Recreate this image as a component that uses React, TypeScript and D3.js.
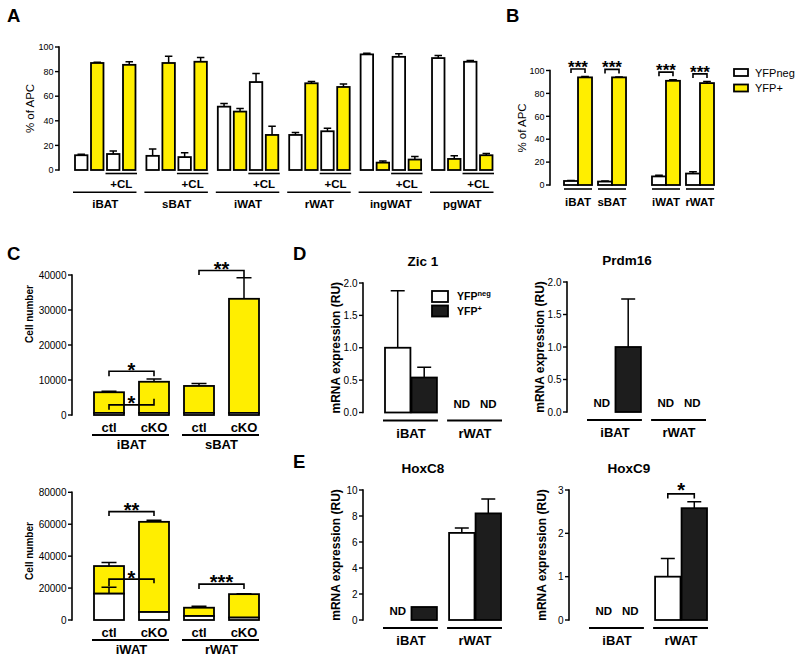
import React from 'react';
import * as d3 from 'd3';

const FONT = '"Liberation Sans", Arial, Helvetica, sans-serif';
const YELLOW = '#ffee00';
const DARK = '#1d1d1d';
const SW = 1.8;

type Num = number | null;

// ---- A: % of APC by depot, with / without CL
const aTissues = ['iBAT', 'sBAT', 'iWAT', 'rWAT', 'ingWAT', 'pgWAT'];
const aConds = ['YFPneg', 'YFP+', 'YFPneg +CL', 'YFP+ +CL'];
const aMeans = [
  [12, 87, 13, 85.5],
  [11.5, 87, 10.5, 88],
  [51.5, 47.5, 71.5, 28.5],
  [28.5, 70.5, 31.5, 67.5],
  [94, 6, 92, 8.5],
  [91, 9, 88, 12],
];
const aErrs = [
  [0.8, 0.6, 2.5, 2.5],
  [5.5, 5.5, 3.5, 3.5],
  [2.5, 2.5, 7, 7],
  [2, 1.5, 2.5, 2.5],
  [1, 1.3, 2.5, 2.5],
  [2, 2.5, 1, 1.5],
];
const aTicks = [0, 20, 40, 60, 80, 100];

// ---- B
const bDepots = ['BAT', 'WAT'];
const bTissues = [['iBAT', 'sBAT'], ['iWAT', 'rWAT']];
const bNeg = [[3.5, 3], [7.5, 10]];
const bNegErr = [[0.5, 0.4], [1, 1.5]];
const bPos = [[94, 94], [91, 89]];
const bPosErr = [[0.8, 0.4], [1, 1.5]];
const bSig = [['***', '***'], ['***', '***']];
const legendLabels = ['YFPneg', 'YFP+'];

// ---- C: cell numbers, stacked YFPneg (bottom) + YFP+ (top)
const cConds = ['ctl', 'cKO'];
const cTopTissues = ['iBAT', 'sBAT'];
const cTopNeg = [[600, 600], [600, 600]];
const cTopNegErr = [[0, 0], [0, 0]];
const cTopPos = [[5900, 8900], [7700, 32600]];
const cTopErr = [[300, 800], [700, 6000]];
const cTopTicks = [0, 10000, 20000, 30000, 40000];
const cTopSigs = [
  { tissue: 'iBAT', level: 12500, label: '*' },
  { tissue: 'iBAT', level: 2900, label: '*' },
  { tissue: 'sBAT', level: 41300, label: '**' },
];
const cBotTissues = ['iWAT', 'rWAT'];
const cBotNeg = [[16500, 5000], [2500, 1500]];
const cBotNegErr = [[4000, 0], [0, 0]];
const cBotPos = [[17300, 56500], [5200, 14700]];
const cBotErr = [[2300, 1000], [900, 300]];
const cBotTicks = [0, 20000, 40000, 60000, 80000];
const cBotSigs = [
  { tissue: 'iWAT', level: 67900, label: '**' },
  { tissue: 'iWAT', level: 25600, label: '*' },
  { tissue: 'rWAT', level: 22500, label: '***' },
];

// ---- D / E: mRNA expression, null = ND
const dTissues = ['iBAT', 'rWAT'];
const dConds = ['neg', 'pos'];
const zic1Neg: Num[] = [1.0, null];
const zic1NegErr = [0.88, 0];
const zic1Pos: Num[] = [0.54, null];
const zic1PosErr = [0.16, 0];
const prdm16Neg: Num[] = [null, null];
const prdm16NegErr = [0, 0];
const prdm16Pos: Num[] = [1.0, null];
const prdm16PosErr = [0.74, 0];
const hoxc8Neg: Num[] = [null, 6.7];
const hoxc8NegErr = [0, 0.38];
const hoxc8Pos: Num[] = [1.0, 8.2];
const hoxc8PosErr = [0, 1.1];
const hoxc9Neg: Num[] = [null, 1.0];
const hoxc9NegErr = [0, 0.42];
const hoxc9Pos: Num[] = [null, 2.58];
const hoxc9PosErr = [0, 0.15];
const dTicks = [0, 0.5, 1.0, 1.5, 2.0];
const c8Ticks = [0, 2, 4, 6, 8, 10];
const c9Ticks = [0, 1, 2, 3];

function YAxis({ x, y, ticks, fmt, fs }: any) {
  const [r0, r1] = y.range();
  return (
    <g>
      <line x1={x} x2={x} y1={r0 + 0.7} y2={r1 - 0.7} stroke="#000" strokeWidth={1.6} />
      {ticks.map((t: number) => (
        <g key={t}>
          <line x1={x - 4} x2={x} y1={y(t)} y2={y(t)} stroke="#000" strokeWidth={1.4} />
          <text x={x - 5.5} y={y(t)} dy="0.36em" textAnchor="end" fontSize={fs}>{fmt(t)}</text>
        </g>
      ))}
    </g>
  );
}

function VLabel({ x, y, text, fs, bold }: any) {
  return (
    <text transform={`translate(${x},${y}) rotate(-90)`} textAnchor="middle" dominantBaseline="central"
      fontSize={fs} fontWeight={bold ? 'bold' : 'normal'}>{text}</text>
  );
}

function Err({ cx, y0, y1, w }: any) {
  return <path d={`M${cx},${y0}V${y1}M${cx - w / 2},${y1}H${cx + w / 2}`} stroke="#000" strokeWidth={1.5} fill="none" />;
}

function Bracket({ x1, x2, y, l1, l2 }: any) {
  return <path d={`M${x1},${y + l1}V${y}H${x2}V${y + l2}`} stroke="#000" strokeWidth={1.6} fill="none" />;
}

function Stars({ x, y, label, fs }: any) {
  // y = visual centre of the asterisks
  return <text x={x} y={y + fs * 0.57} textAnchor="middle" fontSize={fs} fontWeight="bold">{label}</text>;
}

function PanelA() {
  const ay = d3.scaleLinear().domain([0, 100]).range([170, 47]);
  const ax = d3.scaleBand().domain(aTissues).range([75, 492.5]).paddingInner(0.153);
  const axi = d3.scaleBand().domain(aConds).range([0, ax.bandwidth()]).paddingInner(0.22);
  const bw = axi.bandwidth();
  return (
    <g>
      <YAxis x={59} y={ay} ticks={aTicks} fmt={(d: number) => String(d)} fs={9} />
      <VLabel x={30} y={108.5} text="% of APC" fs={11.5} />
      {aTissues.map((t, i) => {
        const gx = ax(t)!;
        const clX0 = gx + axi('YFPneg +CL')! - 1.5;
        const clX1 = gx + axi('YFP+ +CL')! + bw + 1.5;
        return (
          <g key={t}>
            {aConds.map((c, j) => {
              const x = gx + axi(c)!;
              const v = aMeans[i][j];
              return (
                <g key={c}>
                  <Err cx={x + bw / 2} y0={ay(v)} y1={ay(v + aErrs[i][j])} w={bw * 0.6} />
                  <rect x={x} y={ay(v)} width={bw} height={ay(0) - ay(v)}
                    fill={c.startsWith('YFP+') ? YELLOW : '#fff'} stroke="#000" strokeWidth={SW} />
                </g>
              );
            })}
            <line x1={clX0} x2={clX1} y1={173.5} y2={173.5} stroke="#000" strokeWidth={1.6} />
            <text x={(clX0 + clX1) / 2} y={187.5} textAnchor="middle" fontSize={11.5} fontWeight="bold">+CL</text>
            <line x1={gx - 2} x2={gx + ax.bandwidth() + 1} y1={192.3} y2={192.3} stroke="#000" strokeWidth={1.6} />
            <text x={gx + ax.bandwidth() / 2} y={208} textAnchor="middle" fontSize={11.5} fontWeight="bold">{t}</text>
          </g>
        );
      })}
    </g>
  );
}

function PanelB() {
  const by = d3.scaleLinear().domain([0, 100]).range([185, 70.5]);
  const bx = d3.scaleBand().domain(bDepots).range([564, 714]).paddingInner(0.295);
  return (
    <g>
      <YAxis x={550} y={by} ticks={aTicks} fmt={(d: number) => String(d)} fs={9} />
      <VLabel x={522} y={128} text="% of APC" fs={11.5} />
      {bDepots.map((d, di) => {
        const tx = d3.scaleBand().domain(bTissues[di]).range([0, bx.bandwidth()]).paddingInner(0.176);
        const cx = d3.scaleBand().domain(legendLabels).range([0, tx.bandwidth()]);
        return bTissues[di].map((t, ti) => {
          const x0 = bx(d)! + tx(t)!;
          const vals = [bNeg[di][ti], bPos[di][ti]];
          const errs = [bNegErr[di][ti], bPosErr[di][ti]];
          const top = d3.max(vals.map((v, k) => v + errs[k]))!;
          const h = by(top) - 7.5;
          const c0 = x0 + cx(legendLabels[0])! + cx.bandwidth() / 2;
          const c1 = x0 + cx(legendLabels[1])! + cx.bandwidth() / 2;
          return (
            <g key={t}>
              {legendLabels.map((l, k) => (
                <g key={l}>
                  <Err cx={x0 + cx(l)! + cx.bandwidth() / 2} y0={by(vals[k])} y1={by(vals[k] + errs[k])} w={cx.bandwidth() * 0.55} />
                  <rect x={x0 + cx(l)!} y={by(vals[k])} width={cx.bandwidth()} height={by(0) - by(vals[k])}
                    fill={k === 1 ? YELLOW : '#fff'} stroke="#000" strokeWidth={SW} />
                </g>
              ))}
              <Bracket x1={c0} x2={c1} y={h} l1={4} l2={4} />
              <Stars x={(c0 + c1) / 2} y={h - 6} label={bSig[di][ti]} fs={17} />
              <line x1={x0} x2={x0 + tx.bandwidth()} y1={189} y2={189} stroke="#000" strokeWidth={1.6} />
              <text x={x0 + tx.bandwidth() / 2} y={205.5} textAnchor="middle" fontSize={11.5} fontWeight="bold">{t}</text>
            </g>
          );
        });
      })}
      {legendLabels.map((l, k) => (
        <g key={l}>
          <rect x={734} y={69 + k * 15.5} width={14} height={7} fill={k === 1 ? YELLOW : '#fff'} stroke="#000" strokeWidth={SW} />
          <text x={755} y={76.5 + k * 15.5} fontSize={11}>{l}</text>
        </g>
      ))}
    </g>
  );
}

// leg lengths of the significance brackets, in px (positive = down)
const cTopLegs = [[5, 5], [5, -6], [4.5, 7]];
const cBotLegs = [[4.5, 4.5], [7, 4], [5, 5]];

function PanelC({ tissues, neg, negErr, pos, err, ticks, range, sigs, legs, labelY }: any) {
  const y = d3.scaleLinear().domain([0, ticks[ticks.length - 1]]).range(range);
  const gx = d3.scaleBand().domain(tissues).range([94, 259]).paddingInner(1 / 6);
  const ix = d3.scaleBand().domain(cConds).range([0, gx.bandwidth()]).paddingInner(1 / 3);
  const bw = ix.bandwidth();
  const y0 = range[0];
  return (
    <g>
      <YAxis x={72} y={y} ticks={ticks} fmt={(d: number) => String(d)} fs={10} />
      <VLabel x={29} y={labelY} text="Cell number" fs={10} bold />
      {tissues.map((t: string, i: number) => (
        <g key={t}>
          {cConds.map((c, j) => {
            const x = gx(t)! + ix(c)!;
            const n = neg[i][j];
            const tot = n + pos[i][j];
            return (
              <g key={c}>
                <Err cx={x + bw / 2} y0={y(tot)} y1={y(tot + err[i][j])} w={bw * 0.5} />
                <rect x={x} y={y(tot)} width={bw} height={y(n) - y(tot)} fill={YELLOW} stroke="#000" strokeWidth={SW} />
                <rect x={x} y={y(n)} width={bw} height={y(0) - y(n)} fill="#fff" stroke="#000" strokeWidth={SW} />
                {negErr[i][j] > 0 && <Err cx={x + bw / 2} y0={y(n)} y1={y(n + negErr[i][j])} w={bw * 0.5} />}
                <text x={x + bw / 2} y={y0 + 17} textAnchor="middle" fontSize={13} fontWeight="bold">{c}</text>
              </g>
            );
          })}
          <line x1={gx(t)! - 2} x2={gx(t)! + gx.bandwidth()} y1={y0 + 20} y2={y0 + 20} stroke="#000" strokeWidth={1.8} />
          <text x={gx(t)! + gx.bandwidth() / 2} y={y0 + 34} textAnchor="middle" fontSize={13} fontWeight="bold">{t}</text>
        </g>
      ))}
      {sigs.map((s: any, k: number) => {
        const x1 = gx(s.tissue)! + ix('ctl')! + bw / 2;
        const x2 = gx(s.tissue)! + ix('cKO')! + bw / 2;
        const h = y(s.level);
        return (
          <g key={k}>
            <Bracket x1={x1} x2={x2} y={h} l1={legs[k][0]} l2={legs[k][1]} />
            <Stars x={(x1 + x2) / 2} y={h - 6} label={s.label} fs={20} />
          </g>
        );
      })}
    </g>
  );
}

function GenePanel({ title, neg, negErr, pos, posErr, ticks, fmt, axisX, range, sig, legend }: any) {
  const y = d3.scaleLinear().domain([0, ticks[ticks.length - 1]]).range(range);
  const gx = d3.scaleBand().domain(dTissues).range([axisX + 22, axisX + 138]).paddingInner(0.19);
  const bx = d3.scaleBand().domain(dConds).range([0, gx.bandwidth()]).paddingInner(0.04);
  const bw = bx.bandwidth();
  const y0 = range[0];
  const series = [[neg, negErr], [pos, posErr]];
  return (
    <g>
      <YAxis x={axisX} y={y} ticks={ticks} fmt={fmt} fs={10} />
      <VLabel x={axisX - 27} y={(range[0] + range[1]) / 2} text="mRNA expression (RU)" fs={12} bold />
      <text x={axisX + 60} y={range[1] - 17} textAnchor="middle" fontSize={13.5} fontWeight="bold">{title}</text>
      {dTissues.map((t, i) => (
        <g key={t}>
          {dConds.map((c, j) => {
            const x = gx(t)! + bx(c)!;
            const v = series[j][0][i];
            const e = series[j][1][i];
            if (v === null) {
              return <text key={c} x={x + bw / 2} y={y0 - 5} textAnchor="middle" fontSize={11.5} fontWeight="bold">ND</text>;
            }
            return (
              <g key={c}>
                {e > 0 && <Err cx={x + bw / 2} y0={y(v)} y1={y(v + e)} w={bw * 0.55} />}
                <rect x={x} y={y(v)} width={bw} height={y(0) - y(v)} fill={j === 1 ? DARK : '#fff'} stroke="#000" strokeWidth={SW} />
              </g>
            );
          })}
          <line x1={gx(t)! - 2} x2={gx(t)! + gx.bandwidth() + 1} y1={y0 + 8} y2={y0 + 8} stroke="#000" strokeWidth={1.8} />
          <text x={gx(t)! + gx.bandwidth() / 2} y={y0 + 25} textAnchor="middle" fontSize={13} fontWeight="bold">{t}</text>
        </g>
      ))}
      {sig && (() => {
        const x1 = gx(sig.tissue)! + bx('neg')! + bw / 2;
        const x2 = gx(sig.tissue)! + bx('pos')! + bw / 2;
        const h = y(sig.level);
        return (
          <g>
            <Bracket x1={x1} x2={x2} y={h} l1={4.5} l2={4.5} />
            <Stars x={(x1 + x2) / 2} y={h - 8} label={sig.label} fs={20} />
          </g>
        );
      })()}
      {legend && (
        <g>
          {['neg', '+'].map((s, k) => (
            <g key={s}>
              <rect x={432} y={291 + k * 14.5} width={16} height={11} fill={k === 1 ? DARK : '#fff'} stroke="#000" strokeWidth={SW} />
              <text x={457} y={300 + k * 14.5} fontSize={10.5} fontWeight="bold">
                YFP<tspan fontSize={7.5} dy={-4}>{s}</tspan>
              </text>
            </g>
          ))}
        </g>
      )}
    </g>
  );
}

export default function App() {
  const letter = (t: string, x: number, y: number) => (
    <text x={x} y={y} fontSize={18.5} fontWeight="bold">{t}</text>
  );
  const fmt1 = d3.format('.1f');
  return (
    <svg width={800} height={660} viewBox="0 0 800 660"
      style={{ position: 'absolute', left: 0, top: 0, background: '#fff', fontFamily: FONT }}>
      <rect width={800} height={660} fill="#fff" />
      {letter('A', 7, 22)}
      {letter('B', 506, 22)}
      {letter('C', 7, 260)}
      {letter('D', 293, 260)}
      {letter('E', 293, 468)}
      <PanelA />
      <PanelB />
      <PanelC tissues={cTopTissues} neg={cTopNeg} negErr={cTopNegErr} pos={cTopPos} err={cTopErr}
        ticks={cTopTicks} range={[415, 275]} sigs={cTopSigs} legs={cTopLegs} labelY={314} />
      <PanelC tissues={cBotTissues} neg={cBotNeg} negErr={cBotNegErr} pos={cBotPos} err={cBotErr}
        ticks={cBotTicks} range={[620, 492.3]} sigs={cBotSigs} legs={cBotLegs} labelY={551} />
      <GenePanel title="Zic 1" neg={zic1Neg} negErr={zic1NegErr} pos={zic1Pos} posErr={zic1PosErr}
        ticks={dTicks} fmt={fmt1} axisX={363} range={[412.5, 283]} legend />
      <GenePanel title="Prdm16" neg={prdm16Neg} negErr={prdm16NegErr} pos={prdm16Pos} posErr={prdm16PosErr}
        ticks={dTicks} fmt={fmt1} axisX={567} range={[412, 282]} />
      <GenePanel title="HoxC8" neg={hoxc8Neg} negErr={hoxc8NegErr} pos={hoxc8Pos} posErr={hoxc8PosErr}
        ticks={c8Ticks} fmt={(d: number) => String(d)} axisX={363} range={[620, 490]} />
      <GenePanel title="HoxC9" neg={hoxc9Neg} negErr={hoxc9NegErr} pos={hoxc9Pos} posErr={hoxc9PosErr}
        ticks={c9Ticks} fmt={(d: number) => String(d)} axisX={569} range={[620, 490]}
        sig={{ tissue: 'rWAT', level: 2.91, label: '*' }} />
    </svg>
  );
}
